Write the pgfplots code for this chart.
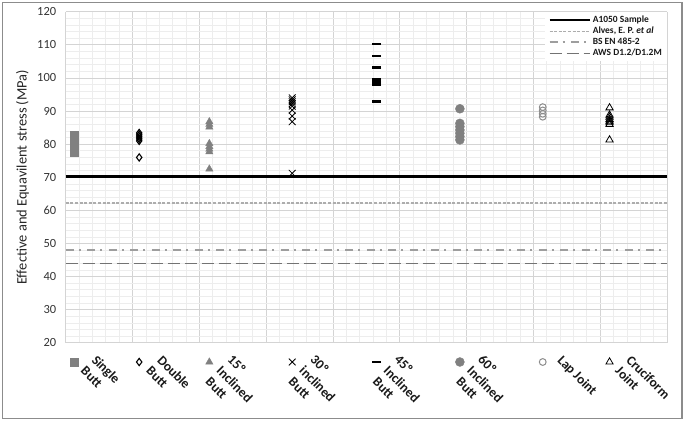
\documentclass[border=0pt]{standalone}
\usepackage{fontspec}
\setmainfont{Carlito}
\usepackage{pgfplots}
\pgfplotsset{compat=1.18}
\begin{document}
\begin{tikzpicture}
\useasboundingbox (0bp,0bp) rectangle (685bp,421bp);
\draw[black!45, line width=1.2bp] (2.5bp,2.5bp) rectangle (682bp,418.5bp);
\begin{axis}[
  at={(65.7bp,78.2bp)}, anchor=south west,
  scale only axis, width=601.3bp, height=331bp,
  xmin=0, xmax=9, ymin=20, ymax=120,
  clip=false,
  xtick={0,1,...,9}, xticklabels={},
  ytick={20,30,...,120},
  minor x tick num=4, minor y tick num=4,
  grid=both,
  major grid style={draw=black!17, line width=0.8bp},
  minor grid style={draw=black!7, line width=0.7bp},
  axis line style={draw=none},
  tick style={draw=none},
  /pgf/number format/assume math mode=true,
  yticklabel style={font=\fontsize{12.5}{14}\selectfont, text=black!80, xshift=-6bp},
  ylabel={Effective and Equavilent stress (MPa)},
  ylabel style={font=\fontsize{14.5}{16}\selectfont, text=black!85, at={(axis description cs:-0.072,0.5)}, anchor=center, rotate=0},
  legend style={at={(1,1)}, anchor=north east, fill=white, draw=none,
    font=\bfseries\fontsize{9.5}{11}\selectfont, text=black!90,
    inner xsep=3bp, inner ysep=2bp, row sep=-1bp,
    /tikz/every even column/.append style={column sep=3bp}},
  legend cell align=left,
  legend image code/.code={\draw[#1] (0bp,0bp) -- (40bp,0bp);},
]
% reference lines
\addplot[black, line width=2.5bp] coordinates {(0,70.2) (9,70.2)};
\addlegendentry{A1050 Sample}
\addplot[black!32, line width=1.3bp, dash pattern=on 3bp off 1.6bp] coordinates {(0,62.2) (9,62.2)};
\addlegendentry{Alves, E. P. \textit{et al}}
\addplot[black!38, line width=2.2bp, dash pattern=on 8bp off 5bp on 2bp off 6.5bp] coordinates {(0,48) (9,48)};
\addlegendentry{BS EN 485-2}
\addplot[black!55, line width=1.6bp, dash pattern=on 12.5bp off 4.5bp] coordinates {(0,44) (9,44)};
\addlegendentry{AWS D1.2/D1.2M}

% Single Butt
\addplot[forget plot, only marks, mark=square*, mark size=4bp, color=black!50] coordinates {
 (0.12,77.5) (0.12,78.3) (0.12,79.2) (0.12,80.1) (0.12,81.0) (0.12,81.8) (0.12,82.6) (0.12,14.2)};
% Double Butt
\addplot[forget plot, only marks, mark=diamond, mark size=3.6bp, line width=1.1bp, color=black] coordinates {
 (1.10,76.0) (1.10,81.0) (1.10,81.6) (1.10,82.2) (1.10,82.8) (1.10,83.4) (1.10,14.2)};
% 15 Inclined Butt
\addplot[forget plot, only marks, mark=triangle*, mark size=4.2bp, color=black!50] coordinates {
 (2.15,72.5) (2.15,77.7) (2.15,78.5) (2.15,79.3) (2.15,80.2) (2.15,85.2) (2.15,86.0) (2.15,86.8) (2.15,14.2)};
% 30 inclined Butt
\addplot[forget plot, only marks, mark=x, mark size=4.8bp, line width=0.8bp, color=black] coordinates {
 (3.39,71.2) (3.39,86.8) (3.39,88.5) (3.39,90.3) (3.39,91.5) (3.39,92.2) (3.39,92.8) (3.39,93.4) (3.39,94.0) (3.39,14.2)};
% 45 Inclined Butt
\addplot[forget plot, only marks, mark=-, mark size=4.8bp, line width=2.4bp, color=black] coordinates {
 (4.65,92.9) (4.65,97.9) (4.65,98.4) (4.65,98.8) (4.65,99.3) (4.65,99.7) (4.65,103.2) (4.65,106.7) (4.65,110.2) (4.65,14.2)};
% 60 Inclined Butt
\addplot[forget plot, only marks, mark=*, mark size=4.5bp, color=black!50] coordinates {
 (5.90,81.3) (5.90,82.3) (5.90,83.3) (5.90,84.3) (5.90,85.3) (5.90,86.3) (5.90,90.7) (5.90,14.2)};
% Lap Joint
\addplot[forget plot, only marks, mark=o, mark size=3.4bp, line width=1bp, color=black!45] coordinates {
 (7.14,88.3) (7.14,89.2) (7.14,90.2) (7.14,91.2) (7.14,14.2)};
% Cruciform Joint
\addplot[forget plot, only marks, mark=triangle, mark size=4.2bp, line width=0.8bp, color=black] coordinates {
 (8.14,81.3) (8.14,86.0) (8.14,86.5) (8.14,87.0) (8.14,87.5) (8.14,88.2) (8.14,88.8) (8.14,91.0) (8.14,14.2)};

% bottom category labels
\begin{scope}[every node/.style={rotate=-45, anchor=north west, align=left, inner sep=0pt,
   font=\bfseries\fontsize{13.5}{15.5}\selectfont, text=black!90}]
\node at (axis cs:0.48,16.6) {Single\\Butt};
\node at (axis cs:1.46,16.6) {Double\\Butt};
\node at (axis cs:2.51,16.6) {15º\\Inclined\\Butt};
\node at (axis cs:3.75,16.6) {30º\\inclined\\Butt};
\node at (axis cs:5.01,16.6) {45º\\Inclined\\Butt};
\node at (axis cs:6.26,16.6) {60º\\Inclined\\Butt};
\node at (axis cs:7.45,16.6) {Lap Joint};
\node at (axis cs:8.48,16.6) {Cruciform\\Joint};
\end{scope}
\end{axis}
\end{tikzpicture}
\end{document}
